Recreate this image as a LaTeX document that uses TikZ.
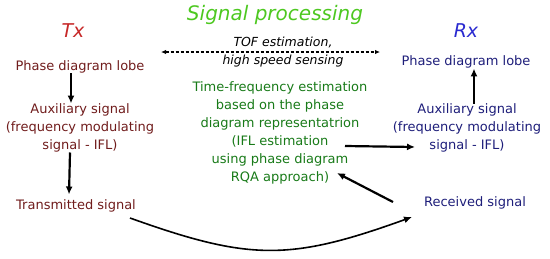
\documentclass[tikz,border=0pt]{standalone}
\usepackage{fontspec}
\setmainfont{DejaVu Sans}
\usetikzlibrary{arrows.meta}
\definecolor{titlegreen}{HTML}{4DC820}
\definecolor{txred}{HTML}{C62828}
\definecolor{rxblue}{HTML}{2A2AD0}
\definecolor{lred}{HTML}{701C1C}
\definecolor{rblue}{HTML}{1E1E7A}
\definecolor{dgreen}{HTML}{187A18}
\begin{document}
\begin{tikzpicture}[x=1pt,y=-1pt,
  lbl/.style={inner sep=0pt, align=center, font=\fontsize{13}{18}\selectfont},
  big/.style={inner sep=0pt, font=\fontsize{19}{22}\selectfont\itshape},
  arr/.style={line width=2.2pt, -{Latex[length=8pt,width=7pt]}},
  dasharr/.style={line width=1.2pt, dash pattern=on 3pt off 2pt,
     {Latex[length=5pt,width=4.5pt]}-{Latex[length=5pt,width=4.5pt]}},
]
\useasboundingbox (0,0) rectangle (550,258);

% headings
\node[big, font=\fontsize{20}{22}\selectfont\itshape, text=titlegreen] (title) at (275,15) {Signal processing};
\node[big, text=txred] (tx) at (73,31) {Tx};
\node[big, text=rxblue] (rx) at (466,31) {Rx};

% TOF
\node[lbl, font=\fontsize{12.5}{18}\selectfont\itshape] (tof) at (283,52) {TOF estimation,\\high speed sensing};
\coordinate (da1) at (161,52);
\coordinate (da2) at (380,52);
\draw[dasharr] (da1) -- (da2);

% left column
\node[lbl, text=lred] (lpd) at (80,67) {Phase diagram lobe};
\node[lbl, text=lred] (laux) at (80,128) {Auxiliary signal\\(frequency modulating\\signal - IFL)};
\node[lbl, text=lred] (ltx) at (76,206) {Transmitted signal};

% right column
\node[lbl, text=rblue] (rpd) at (466,62) {Phase diagram lobe};
\node[lbl, text=rblue] (raux) at (467,128) {Auxiliary signal\\(frequency modulating\\signal - IFL)};
\node[lbl, text=rblue] (rrx) at (475,203) {Received signal};

% center
\node[lbl, text=dgreen] (tf) at (280,133) {Time-frequency estimation\\based on the phase\\diagram representatrion\\(IFL estimation\\using phase diagram\\RQA approach)};

% arrows
\draw[arr] ([xshift=-9pt]lpd.south) -- ([xshift=-9pt]laux.north);
\draw[arr] ([xshift=-10pt]laux.south) -- ([xshift=-7pt,yshift=5pt]ltx.north);
\draw[arr] ([xshift=7pt]raux.north) -- ([xshift=8pt]rpd.south);

\coordinate (g1) at (345,146);
\coordinate (g2) at (415,147);
\draw[arr] (g1) -- (g2);

\coordinate (r1) at (393,202);
\coordinate (r2) at (337,173);
\draw[arr] (r1) -- (r2);

\coordinate (c1) at (130,218);
\coordinate (c2) at (412,217);
\draw[line width=1.6pt, -{Latex[length=8pt,width=7pt]}] (c1) .. controls (250,261) and (290,261) .. (c2);
\end{tikzpicture}
\end{document}
